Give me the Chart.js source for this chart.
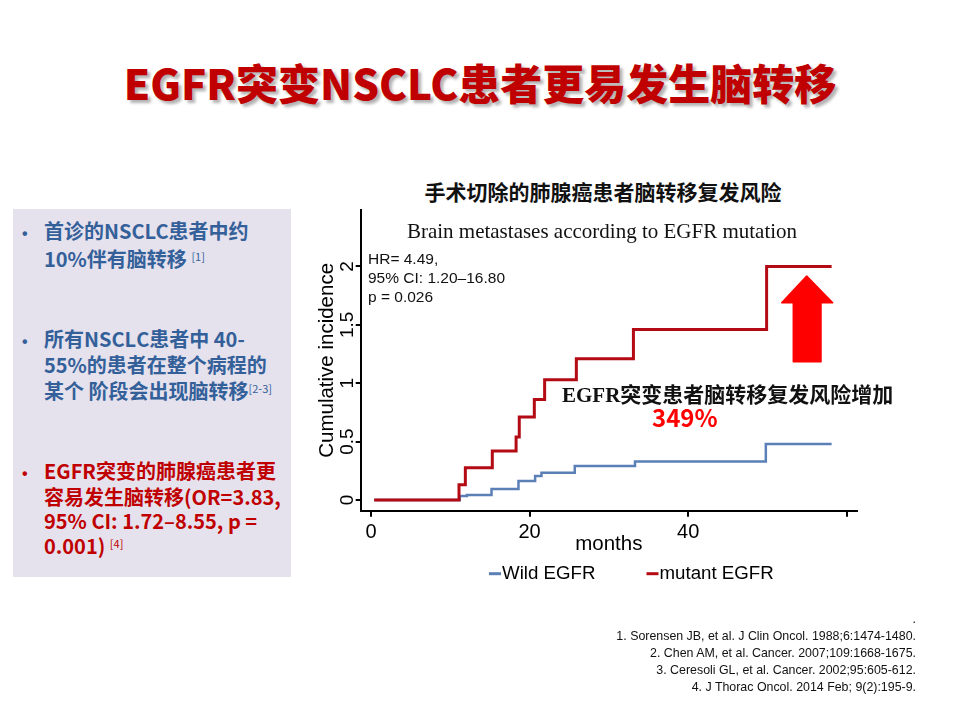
<!DOCTYPE html>
<html>
<head>
<meta charset="utf-8">
<script src="https://cdn.jsdelivr.net/npm/chart.js@4.4.1/dist/chart.umd.min.js"></script>
<style>
body{margin:0;background:#fff;width:960px;height:720px;position:relative;overflow:hidden;font-family:"Liberation Sans",Arial,sans-serif}
.abs{position:absolute;white-space:nowrap}
#title{left:0;width:960px;top:54px;text-align:center;font:900 42px "Noto Sans CJK SC";line-height:56px;color:#C00000;text-shadow:3px 3px 3px rgba(0,0,0,.3)}
#panel{left:13px;top:209px;width:278px;height:368px;background:#E5E2ED}
.blk{left:22px;font:700 20px "Noto Sans CJK SC";line-height:23.3px;color:#34609A}
.blk .b{display:inline-block;width:22px;font-family:"Liberation Sans";font-size:16px}
.blk sup{font-size:11px;vertical-align:6px;font-weight:400}
.red{color:#C00000}
#ctitle{left:403px;width:400px;top:176px;text-align:center;font:700 21px "Noto Sans CJK SC";line-height:30px;color:#111}
#sub{left:402px;width:400px;top:218px;text-align:center;font:21px "Liberation Serif";line-height:26px;color:#111}
#hr{left:368px;top:249px;font:15.5px "Liberation Sans";line-height:19px;color:#111}
#ann{left:562px;top:380px;font:700 21px "Noto Sans CJK SC";line-height:26px;color:#111}
#ann span{font-family:"Liberation Serif";font-size:21px}
#pct{left:652px;top:402px;font:700 24px "Noto Sans CJK SC";line-height:30px;color:#FF0000}
#refs{left:540px;width:376px;top:611px;text-align:right;font:12.4px "Liberation Sans";line-height:17px;color:#111}
#chart{position:absolute;left:300px;top:200px}
</style>
</head>
<body>
<div id="title" class="abs">EGFR突变NSCLC患者更易发生脑转移</div>

<div id="panel" class="abs"></div>
<div class="abs blk" style="top:219px"><span class="b">•</span>首诊的NSCLC患者中约<br><span class="b"></span>10%伴有脑转移 <sup>[1]</sup></div>
<div class="abs blk" style="top:327px"><span class="b">•</span>所有NSCLC患者中 40-<br><span class="b"></span>55%的患者在整个病程的<br><span class="b"></span>某个 阶段会出现脑转移<sup>[2-3]</sup></div>
<div class="abs blk red" style="top:459px"><span class="b">•</span>EGFR突变的肺腺癌患者更<br><span class="b"></span>容易发生脑转移(OR=3.83,<br><span class="b"></span>95% CI: 1.72–8.55, p =<br><span class="b"></span>0.001) <sup>[4]</sup></div>

<div id="ctitle" class="abs">手术切除的肺腺癌患者脑转移复发风险</div>

<canvas id="chart" width="580" height="391"></canvas>

<div id="sub" class="abs">Brain metastases according to EGFR mutation</div>
<div id="hr" class="abs">HR= 4.49,<br>95% CI: 1.20–16.80<br>p = 0.026</div>
<div id="ann" class="abs"><span>EGFR</span>突变患者脑转移复发风险增加</div>
<div id="pct" class="abs">349%</div>
<svg class="abs" style="left:0;top:0" width="960" height="720">
  <polygon points="806.7,276 832.7,302.7 821,302.7 821,361.7 793.3,361.7 793.3,302.7 781.7,302.7" fill="#FF0000" stroke="#FF0000" stroke-width="1.5" stroke-linejoin="round"/>
</svg>

<div id="refs" class="abs">.<br>1. Sorensen JB, et al. J Clin Oncol. 1988;6:1474-1480.<br>2. Chen AM, et al. Cancer. 2007;109:1668-1675.<br>3. Ceresoli GL, et al. Cancer. 2002;95:605-612.<br>4. J Thorac Oncol. 2014 Feb; 9(2):195-9.</div>

<script>
// values (months, cumulative incidence after each step)
const monthsWild = [0.4, 11.2, 12.1, 15.2, 18.6, 20.7, 21.5, 25.7, 33.3, 49.8, 58.1];
const incidenceWild = [0, 0.034, 0.043, 0.094, 0.162, 0.205, 0.233, 0.29, 0.33, 0.48, 0.48];
const monthsMutant = [0.4, 11.1, 11.9, 15.3, 18.3, 18.7, 20.6, 21.9, 25.9, 33.1, 49.9, 58.1];
const incidenceMutant = [0, 0.13, 0.277, 0.42, 0.54, 0.71, 0.86, 1.03, 1.21, 1.46, 2.0, 2.0];

const xTicks = [0, 20, 40, 60];
const xTickLabels = ['0', '20', '40', ''];
const yTicks = [0, 0.5, 1, 1.5, 2];
const yTickLabels = ['0', '0.5', '1', '1.5', '2'];

const toPoints = (xs, ys) => xs.map((x, i) => ({x: x, y: ys[i]}));

Chart.defaults.font.family = '"Liberation Sans", Arial, sans-serif';
Chart.defaults.color = '#000';

// small legend drawn under the axis: line stub + label
const stepLegend = {
    id: 'stepLegend',
    afterDraw(chart) {
        const ctx = chart.ctx;
        const y = chart.chartArea.bottom + 63;
        const starts = [189, 346.5];
        ctx.save();
        ctx.font = '18.7px "Liberation Sans"';
        ctx.textBaseline = 'middle';
        chart.data.datasets.forEach((ds, i) => {
            ctx.strokeStyle = ds.borderColor;
            ctx.lineWidth = 3;
            ctx.beginPath();
            ctx.moveTo(starts[i], y);
            ctx.lineTo(starts[i] + 12, y);
            ctx.stroke();
            ctx.fillStyle = '#000';
            ctx.fillText(ds.label, starts[i] + 13, y);
        });
        ctx.restore();
    }
};

const ctx = document.getElementById('chart');
const myChart = new Chart(ctx, {
    type: 'scatter',
    data: {
        datasets: [{
            label: 'Wild EGFR',
            data: toPoints(monthsWild, incidenceWild),
            borderColor: '#5B7FB7',
            borderWidth: 2.5,
            showLine: true,
            stepped: 'before',
            pointRadius: 0,
            order: 1
        }, {
            label: 'mutant EGFR',
            data: toPoints(monthsMutant, incidenceMutant),
            borderColor: '#B40A14',
            borderWidth: 3,
            showLine: true,
            stepped: 'before',
            pointRadius: 0,
            order: 0
        }]
    },
    options: {
        responsive: false,
        animation: false,
        layout: {padding: {left: 0, top: 10, right: 23, bottom: 30.3}},
        plugins: {legend: {display: false}, tooltip: {enabled: false}},
        scales: {
            x: {
                type: 'linear',
                min: -1.3,
                max: 61.3,
                afterBuildTicks: s => { s.ticks = xTicks.map(v => ({value: v})); },
                afterFit: s => { s.height = 50; },
                ticks: {
                    callback: (v, i) => xTickLabels[i],
                    font: {size: 20},
                    padding: 4,
                    maxRotation: 0
                },
                grid: {drawOnChartArea: false, tickLength: 6, color: '#000', lineWidth: 2},
                border: {color: '#000', width: 2},
                title: {display: true, text: 'months', font: {size: 20.5}, padding: {top: 0, bottom: 4}}
            },
            y: {
                type: 'linear',
                min: -0.092,
                max: 2.484,
                afterBuildTicks: s => { s.ticks = yTicks.map(v => ({value: v})); },
                afterFit: s => { s.width = 60.7; },
                ticks: {
                    callback: (v, i) => yTickLabels[i],
                    font: {size: 19},
                    minRotation: 90,
                    maxRotation: 90,
                    crossAlign: 'center',
                    padding: -5
                },
                grid: {drawOnChartArea: false, tickLength: 5, color: '#000', lineWidth: 2},
                border: {color: '#000', width: 2},
                title: {display: true, text: 'Cumulative incidence', font: {size: 20.5}, padding: {top: 14.7, bottom: 0}}
            }
        }
    },
    plugins: [stepLegend]
});
</script>
</body>
</html>
